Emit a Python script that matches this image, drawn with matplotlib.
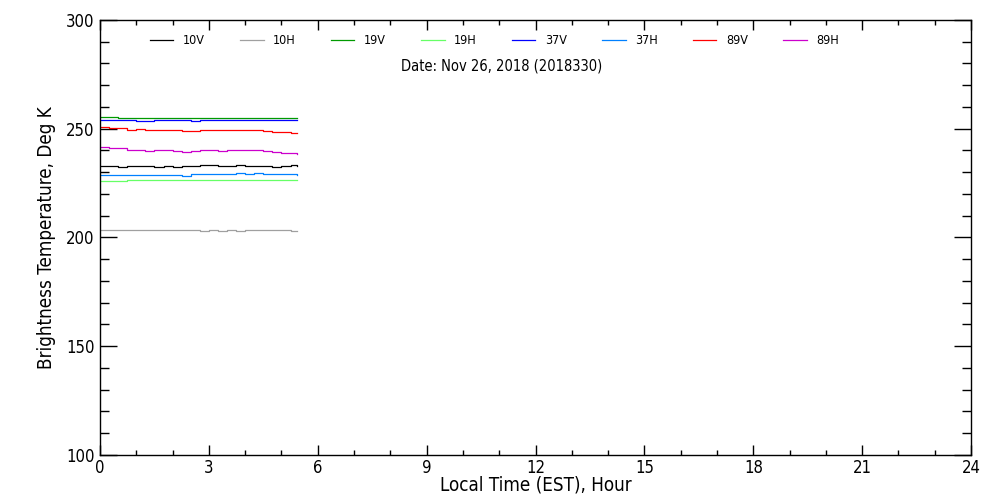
import matplotlib
matplotlib.use("Agg")
import matplotlib.pyplot as plt
from matplotlib.ticker import MultipleLocator

plt.rcParams["font.family"] = ["DejaVu Sans"]
plt.rcParams["font.stretch"] = "condensed"

hours = [0, 0.25, 0.5, 0.75, 1.0, 1.25, 1.5, 1.75, 2.0, 2.25, 2.5, 2.75,
         3.0, 3.25, 3.5, 3.75, 4.0, 4.25, 4.5, 4.75, 5.0, 5.25, 5.42]

tb_10v = [232.8, 232.8, 232.4, 232.8, 232.8, 232.8, 232.4, 232.8, 232.4, 232.8, 232.8, 233.2,
          233.2, 232.8, 232.8, 233.2, 232.8, 232.8, 232.8, 232.4, 232.8, 233.2, 232.8]
tb_10h = [203.6, 203.6, 203.3, 203.6, 203.6, 203.3, 203.6, 203.6, 203.3, 203.6, 203.3, 203.0,
          203.3, 203.0, 203.3, 203.0, 203.3, 203.3, 203.3, 203.3, 203.3, 203.0, 203.0]
tb_19v = [255.3, 255.3, 255.1, 254.8, 254.8, 254.8, 254.8, 254.8, 254.8, 254.8, 254.8, 254.8,
          254.8, 254.8, 254.8, 254.8, 254.8, 254.8, 254.8, 254.8, 254.8, 254.8, 254.8]
tb_19h = [225.8, 225.8, 225.8, 226.3, 226.3, 226.3, 226.3, 226.3, 226.3, 226.3, 226.3, 226.4,
          226.4, 226.4, 226.4, 226.4, 226.4, 226.4, 226.4, 226.4, 226.4, 226.4, 226.4]
tb_37v = [253.9, 253.9, 253.9, 253.9, 253.5, 253.5, 253.9, 253.9, 253.9, 253.9, 253.5, 253.9,
          253.9, 253.9, 253.9, 253.9, 253.9, 253.9, 253.9, 253.9, 253.9, 253.9, 253.9]
tb_37h = [228.7, 228.7, 228.7, 228.7, 228.7, 228.7, 228.7, 228.7, 228.7, 228.3, 229.2, 229.2,
          229.2, 229.2, 229.2, 229.7, 229.2, 229.7, 229.2, 229.2, 229.2, 229.2, 228.7]
tb_89v = [250.6, 250.2, 250.2, 249.3, 249.8, 249.3, 249.3, 249.3, 249.3, 248.8, 248.8, 249.3,
          249.3, 249.6, 249.3, 249.3, 249.3, 249.3, 248.8, 248.4, 248.4, 247.9, 247.9]
tb_89h = [241.8, 241.3, 241.3, 240.4, 240.4, 239.9, 240.4, 240.4, 239.9, 239.4, 239.9, 240.1,
          240.1, 239.7, 240.1, 240.1, 240.1, 240.1, 239.6, 239.2, 238.7, 238.7, 238.3]

channels = ["10V", "10H", "19V", "19H", "37V", "37H", "89V", "89H"]
series = [tb_10v, tb_10h, tb_19v, tb_19h, tb_37v, tb_37h, tb_89v, tb_89h]
colors = ["black", "#a0a0a0", "#009a00", "#66ff66", "#0000ff", "#0080ff", "#ff0000", "#cc00cc"]

fig = plt.figure(figsize=(10, 5), dpi=100)
ax = fig.add_axes([0.1, 0.09, 0.871, 0.87])

for name, vals, col in zip(channels, series, colors):
    ax.plot(hours, vals, color=col, lw=0.9, drawstyle="steps-post", label=name)

ax.set_xlim(0, 24)
ax.set_ylim(100, 300)
ax.xaxis.set_major_locator(MultipleLocator(3))
ax.xaxis.set_minor_locator(MultipleLocator(1))
ax.yaxis.set_major_locator(MultipleLocator(50))
ax.yaxis.set_minor_locator(MultipleLocator(10))
ax.tick_params(axis="both", which="both", direction="in", top=True, right=True,
               width=1.0, labelsize=12)
ax.tick_params(axis="x", which="major", length=7.5, pad=3)
ax.tick_params(axis="x", which="minor", length=3.6)
ax.tick_params(axis="y", which="major", length=12.5, pad=4)
ax.tick_params(axis="y", which="minor", length=6.5)
for sp in ax.spines.values():
    sp.set_linewidth(1.0)

ax.set_xlabel("Local Time (EST), Hour", fontsize=13.5, labelpad=-1)
ax.set_ylabel("Brightness Temperature, Deg K", fontsize=13.5, labelpad=7)

ax.legend(loc="center left", bbox_to_anchor=(0.057, 0.952), ncol=8, frameon=False,
          fontsize=9, handlelength=1.9, handletextpad=0.75, columnspacing=2.8,
          borderpad=0, borderaxespad=0)
ax.text(0.4615, 0.894, "Date: Nov 26, 2018 (2018330)", transform=ax.transAxes,
        ha="center", va="center", fontsize=10.5)

fig.savefig("out.png", dpi=100)
